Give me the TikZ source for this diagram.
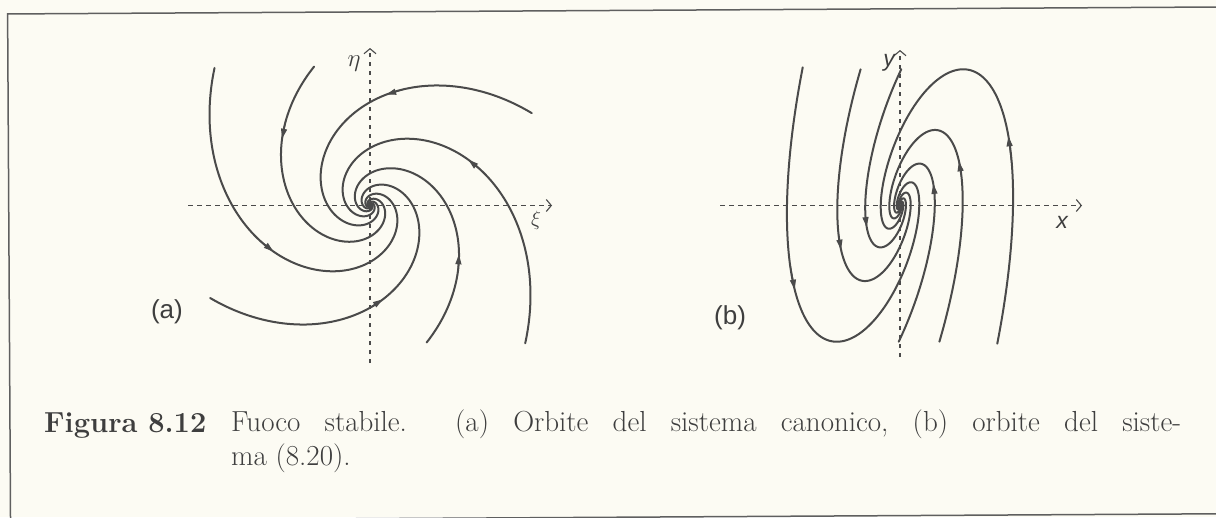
\documentclass[tikz,border=0pt]{standalone}
\usepackage{fontspec}
\usetikzlibrary{arrows.meta}
\newfontfamily\labsans{Liberation Sans}
\definecolor{paper}{RGB}{252,251,243}
\definecolor{ink}{RGB}{74,74,74}
\definecolor{txt}{RGB}{62,62,62}
\definecolor{framec}{RGB}{95,95,95}
\begin{document}
\begin{tikzpicture}[x=1pt,y=1pt,
  declare function={ra(\tq,\ph)=138*exp(-0.563*(\tq-\ph)*pi/180);
                    rb(\tq,\ph)=283.6*exp(-0.563*(\tq-\ph)*pi/180);},
  orbit/.style={ink, line width=2pt, line cap=round, line join=round},
  axisline/.style={ink, line width=1.1pt, dash pattern=on 4.5pt off 4.5pt,
     -{Straight Barb[length=5pt,width=12pt,line width=1.1pt]}},
  flowtip/.style={ink, line width=1.2pt, -{Triangle[length=10pt,width=6pt]}},
  lab/.style={text=txt, inner sep=0pt}
]
\fill[paper] (0,0) rectangle (1216,-517);
\useasboundingbox (0,0) rectangle (1216,-517);

% frame and caption (scan slightly tilted)
\begin{scope}[rotate around={0.33:(608,-258.5)}]
  \draw[framec, line width=1.5pt] (1300,-10.5) -- (9,-10.5) -- (9,-517.3) -- (1300,-517.3);
  \node[lab, anchor=base west, font=\fontsize{29}{34}\selectfont\bfseries] (fig) at (43,-429.5) {Figura 8.12};
  \node[lab, anchor=base west, font=\fontsize{29}{34}\selectfont] (cap) at (230,-429.5)
    {\parbox[t]{950pt}{\frenchspacing\tolerance=9999\hbadness=10000 Fuoco stabile.\hspace{24pt} (a) Orbite del sistema canonico, (b) orbite del siste-\linebreak ma (8.20).}};
\end{scope}

% ---------- panel (a) ----------
\coordinate (aL) at (188,-205.5);
\coordinate (aR) at (552,-205.5);
\coordinate (aB) at (370,-363);
\coordinate (aT) at (370,-48);
\draw[axisline] (aL) -- (aR);
\draw[axisline] (aB) -- (aT);
\node[lab, font=\fontsize{24}{28}\selectfont] (eta) at (354,-64) {$\eta$};
\node[lab, font=\fontsize{22}{26}\selectfont] (xi) at (536,-220) {$\xi$};
\node[lab, anchor=east, font=\labsans\fontsize{26}{30}\selectfont] (la) at (183,-312) {(a)};

\begin{scope}[shift={(370,-205)}]
\foreach \p/\s/\ang in {0/-41.7/22.7, 60/29.6/79.7, 120/112/141, 180/138.6/203.8, 240/210.2/275.8, 300/292.4/329} {
  \pgfmathsetmacro\e{\p+500}
  \draw[orbit] plot[variable=\t, domain=\s:\e, samples=320, smooth] ({\t}:{ra(\t,\p)});
  \draw[flowtip] ({\ang-6}:{ra(\ang-6,\p)}) -- ({\ang+2}:{ra(\ang+2,\p)});
}
\end{scope}

% ---------- panel (b) ----------
\coordinate (bL) at (720,-205.5);
\coordinate (bR) at (1082,-205.5);
\coordinate (bB) at (900,-357);
\coordinate (bT) at (900,-50);
\draw[axisline] (bL) -- (bR);
\draw[axisline] (bB) -- (bT);
\node[lab, font=\labsans\itshape\fontsize{23}{27}\selectfont] (ylab) at (889,-63) {y};
\node[lab, font=\labsans\itshape\fontsize{23}{27}\selectfont] (xlab) at (1062,-222) {x};
\node[lab, anchor=west, font=\labsans\fontsize{26}{30}\selectfont] (lb) at (714,-318) {(b)};

\begin{scope}[shift={(900,-205.5)}]
\foreach \p/\s/\ang in {0/-22.9/14.7, 60/120/195, 120/143/198, 180/157.1/199.5, 240/300/375, 300/323/378} {
  \pgfmathsetmacro\e{\p+500}
  \draw[orbit] plot[variable=\t, domain=\s:\e, samples=320, smooth]
     ({(0.3985*cos(\t)+0.2395*sin(\t))*rb(\t,\p)}, {sin(\t)*rb(\t,\p)});
  \draw[flowtip] ({(0.3985*cos(\ang-6)+0.2395*sin(\ang-6))*rb(\ang-6,\p)}, {sin(\ang-6)*rb(\ang-6,\p)})
              -- ({(0.3985*cos(\ang+2)+0.2395*sin(\ang+2))*rb(\ang+2,\p)}, {sin(\ang+2)*rb(\ang+2,\p)});
}
\end{scope}
\end{tikzpicture}
\end{document}
